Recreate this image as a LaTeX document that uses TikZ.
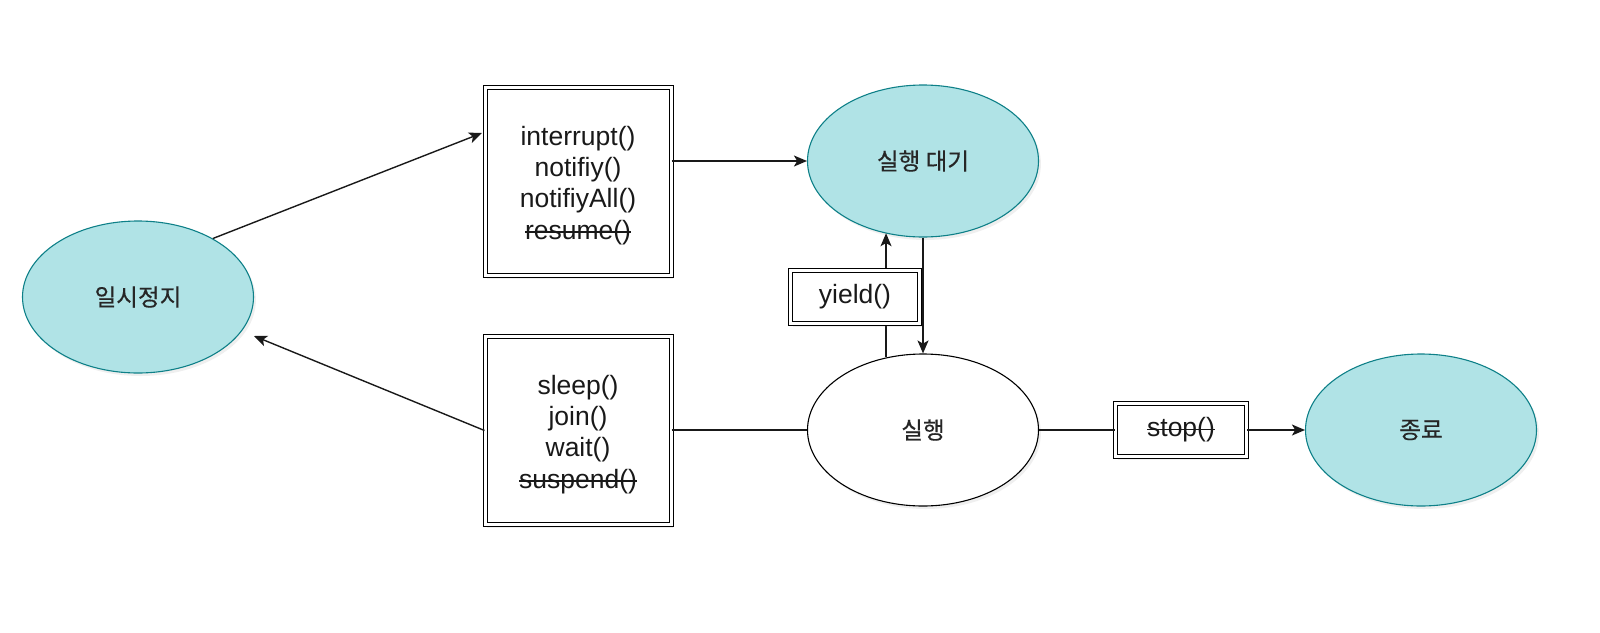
\documentclass[tikz,border=0pt]{standalone}
\usepackage{fontspec}
\setmainfont{Liberation Sans}
\newfontfamily\krfont[FakeBold=0.5]{Noto Sans CJK KR}
\usetikzlibrary{shapes.geometric,arrows.meta,shadows}
\definecolor{tealfill}{HTML}{B0E3E6}
\definecolor{tealline}{HTML}{0E8088}
\newcommand\strk[1]{\setbox0\hbox{#1}\rlap{\rule[0.25em]{\wd0}{0.6pt}}\box0}
\begin{document}
\begin{tikzpicture}[x=0.5pt,y=-0.5pt,
  shade/.style={drop shadow={opacity=0.13,shadow xshift=1.2pt,shadow yshift=-1.5pt}},
  statenode/.style={ellipse,draw=tealline,fill=tealfill,line width=0.55pt,
    minimum width=115.5pt,minimum height=76pt,inner sep=0pt,
    font=\krfont\fontsize{11.8}{14}\selectfont,text=black!85,shade},
  runnode/.style={statenode,draw=black},
  runnode/.append style={fill=white},
  methodbox/.style={rectangle,draw=black,double=white,line width=0.5pt,double distance=1.5pt,
    fill=white,inner sep=0pt,align=center,
    font=\fontsize{13.25}{15.6}\selectfont,text=black!90,shade},
  boxtext/.style={font=\fontsize{13.25}{15.6}\selectfont,text=black!90,align=center,yshift=-2pt},
  conn/.style={line width=0.7pt,draw=black!90},
  arr/.style={conn,-{Stealth[length=6.5pt,width=5.5pt,inset=1.6pt]}}
]
\useasboundingbox (0,0) rectangle (1600,632);

\node[statenode] (pause) at (138,297) {일시정지};
\node[statenode] (wait) at (923,161) {실행 대기};
\node[runnode] (run) at (923,430) {실행};
\node[statenode] (done) at (1421,430) {종료};

\node[methodbox,minimum width=93pt,minimum height=94pt,
  label={[boxtext]center:interrupt()\\notifiy()\\notifiyAll()\\\strk{resume()}}] (box1) at (578,181.5) {};
\node[methodbox,minimum width=93pt,minimum height=94pt,
  label={[boxtext]center:sleep()\\join()\\wait()\\\strk{suspend()}}] (box2) at (578,430.5) {};

\coordinate (pin) at (254,336);
\coordinate (b1in) at (482,133);

% connectors behind the yield box
\draw[arr] (run.117.9) -- (run.117.9 |- wait.242.1);
\draw[arr] (wait.south) -- (run.north);

\node[methodbox,minimum width=64.5pt,minimum height=26.5pt] (yield) at (855,297) {yield()};
\node[methodbox,minimum width=65.5pt,minimum height=26.5pt] (stop) at (1181,430) {\strk{stop()}};

\draw[arr] (pause.38) -- (b1in);
\draw[arr] (box1.east |- wait.west) -- (wait.west);
\draw[arr] (box2.west) -- (pin);
\draw[conn] (box2.east |- run.west) -- (run.west);
\draw[conn] (run.east) -- (stop.west);
\draw[arr] (stop.east) -- (done.west);
\end{tikzpicture}
\end{document}
